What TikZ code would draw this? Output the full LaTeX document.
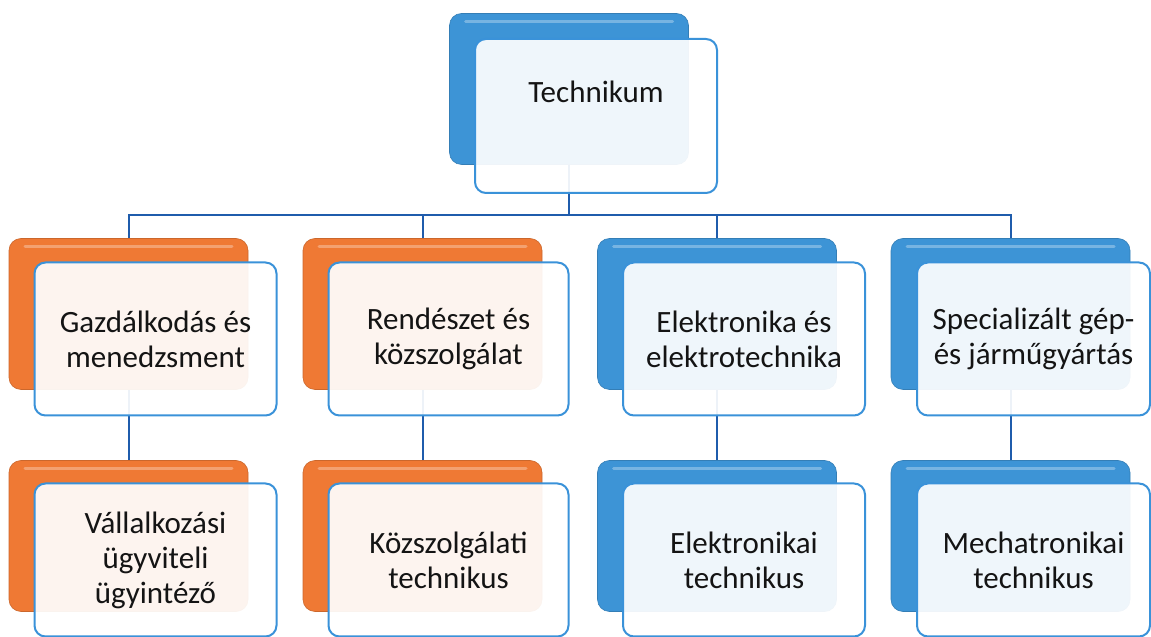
\documentclass[tikz,border=0pt]{standalone}
\usepackage{fontspec}
\setmainfont{Carlito}
\usetikzlibrary{positioning}
\definecolor{cardorange}{RGB}{239,121,52}
\definecolor{cardblue}{RGB}{61,148,214}
\definecolor{cardedge}{RGB}{58,146,217}
\definecolor{linkblue}{RGB}{31,92,172}
\definecolor{inktext}{RGB}{20,20,20}

\tikzset{
  backcard/.style={fill=#1, draw=#1!85!black, line width=0.6pt, rounded corners=12pt,
    minimum width=239pt, minimum height=151pt, inner sep=0pt,
    path picture={\draw[white, opacity=0.3, line width=3pt, line cap=round]
      ([xshift=16pt,yshift=-8pt]path picture bounding box.north west) --
      ([xshift=-16pt,yshift=-8pt]path picture bounding box.north east);}},
  frontcard/.style={draw=cardedge, line width=2pt, fill=white, fill opacity=0.92, text opacity=1,
    rounded corners=11pt, minimum width=242pt, minimum height=153pt, inner sep=0pt,
    align=center, text=inktext, font=\fontsize{31}{35}\selectfont},
  cardtext/.style={text=inktext, font=\fontsize{31}{35}\selectfont},
  link/.style={draw=linkblue, line width=2pt}
}

\begin{document}
\begin{tikzpicture}[x=1pt, y=1pt]
    \useasboundingbox (0,0) rectangle (1151,637);

    % back cards
    \node[backcard=cardblue] (tb) at (569,548) {};
    \node[backcard=cardorange] (m1) at (128.5,323) {};
    \node[backcard=cardorange] (m2) at (422.5,323) {};
    \node[backcard=cardblue] (m3) at (717,323) {};
    \node[backcard=cardblue] (m4) at (1010.5,323) {};
    \node[backcard=cardorange] (l1) at (128.5,101) {};
    \node[backcard=cardorange] (l2) at (422.5,101) {};
    \node[backcard=cardblue] (l3) at (717,101) {};
    \node[backcard=cardblue] (l4) at (1010.5,101) {};

    % connectors
    \coordinate (bus) at (0,422);
    \foreach \c in {1,...,4}
        \draw[link] (tb.south) -- (tb.south |- bus) -| (m\c.north);
    \foreach \c in {1,...,4}
        \draw[link] (m\c.south) -- (l\c.north);

    % front cards
    \node[frontcard, minimum height=154pt] (tf) at ([xshift=27pt,yshift=-27pt]tb.center) {};
    \node[cardtext] (toplabel) at ([yshift=24pt]tf.center) {Technikum};

    \node[frontcard] (f1) at ([xshift=27pt,yshift=-25pt]m1.center) {Gazdálkodás és\\menedzsment};
    \node[frontcard, minimum width=240pt] (f2) at ([xshift=26pt,yshift=-25pt]m2.center) {Rendészet és\\közszolgálat};
    \node[frontcard] (f3) at ([xshift=27pt,yshift=-25pt]m3.center) {Elektronika és\\elektrotechnika};
    \node[frontcard, minimum width=233pt] (f4) at ([xshift=23pt,yshift=-25pt]m4.center) {Specializált gép-\\és járműgyártás};

    \node[frontcard] (g1) at ([xshift=27pt,yshift=-24pt]l1.center) {Vállalkozási\\ügyviteli\\ügyintéző};
    \node[frontcard, minimum width=240pt] (g2) at ([xshift=26pt,yshift=-24pt]l2.center) {Közszolgálati\\technikus};
    \node[frontcard] (g3) at ([xshift=27pt,yshift=-24pt]l3.center) {Elektronikai\\technikus};
    \node[frontcard, minimum width=233pt] (g4) at ([xshift=23pt,yshift=-24pt]l4.center) {Mechatronikai\\technikus};
\end{tikzpicture}
\end{document}
